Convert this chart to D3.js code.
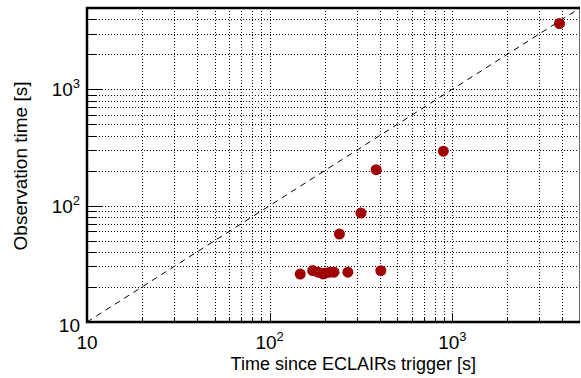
<!DOCTYPE html>
<html>
<head>
<meta charset="utf-8">
<script src="https://cdn.jsdelivr.net/npm/d3@7"></script>
<style>
  body { margin: 0; background: #fff; }
  svg { display: block; font-family: "Liberation Sans", Arial, sans-serif; }
</style>
</head>
<body>
<svg id="chart" width="581" height="378"></svg>
<script>
// time since trigger [s] vs observation time [s]
const triggerTime = [147, 172, 184, 196, 200, 213, 225, 268, 406, 241, 316, 383, 893, 3860];
const obsTime     = [25.8, 27.7, 26.8, 25.9, 26.2, 26.8, 26.8, 26.8, 27.6, 57, 86.5, 204, 294, 3680];
const xDomain = [10, 5000];
const yDomain = [10, 5000];
const decades = [10, 100, 1000];

const svg = d3.select("#chart");
const margin = { left: 87, right: 1, top: 8, bottom: 56 };
const width = +svg.attr("width");
const height = +svg.attr("height");

const x = d3.scaleLog().domain(xDomain).range([margin.left, width - margin.right]);
const y = d3.scaleLog().domain(yDomain).range([height - margin.bottom, margin.top]);

const x0 = x.range()[0], x1 = x.range()[1];
const y0 = y.range()[0], y1 = y.range()[1];

// all grid values 10..5000 (1..9 per decade)
const gridVals = [];
decades.forEach(d => {
  for (let k = 1; k <= 9; k++) {
    const v = d * k;
    if (v >= 10 && v <= 5000) gridVals.push(v);
  }
});

const grid = svg.append("g");
grid.selectAll(".gx")
  .data(gridVals.filter(v => v > xDomain[0] && v < xDomain[1]))
  .enter().append("line")
  .attr("x1", d => Math.round(x(d)) + 0.5).attr("x2", d => Math.round(x(d)) + 0.5)
  .attr("y1", y1).attr("y2", y0)
  .attr("stroke", "#000").attr("stroke-width", 1)
  .attr("stroke-dasharray", "1,2");
grid.selectAll(".gy")
  .data(gridVals.filter(v => v > yDomain[0] && v < yDomain[1]))
  .enter().append("line")
  .attr("y1", d => Math.round(y(d)) + 0.5).attr("y2", d => Math.round(y(d)) + 0.5)
  .attr("x1", x0).attr("x2", x1)
  .attr("stroke", "#000").attr("stroke-width", 1)
  .attr("stroke-dasharray", "1,2");

// ticks
const ticks = svg.append("g").attr("stroke", "#000").attr("stroke-width", 1);
gridVals.forEach(v => {
  const major = decades.includes(v);
  if (v < yDomain[1]) {
    const py = Math.round(y(v)) + 0.5;
    ticks.append("line").attr("x1", x0).attr("x2", x0 + (major ? 15 : 9))
      .attr("y1", py).attr("y2", py);
  }
  if (v < xDomain[1]) {
    const px = Math.round(x(v)) + 0.5;
    ticks.append("line").attr("y1", y0).attr("y2", y0 - (major ? 9 : 5))
      .attr("x1", px).attr("x2", px);
  }
});

// y = x reference line
svg.append("line")
  .attr("x1", x(10)).attr("y1", y(10))
  .attr("x2", x(5000)).attr("y2", y(5000))
  .attr("stroke", "#000").attr("stroke-width", 1)
  .attr("stroke-dasharray", "6,5");

// frame
svg.append("line").attr("x1", x1 - 0.5).attr("x2", x1 - 0.5).attr("y1", y1).attr("y2", y0)
  .attr("stroke", "#666").attr("stroke-width", 1);
svg.append("path")
  .attr("d", `M${x1},${y1}H${x0}V${y0}H${x1}`)
  .attr("fill", "none").attr("stroke", "#000").attr("stroke-width", 2.5);

// points
svg.append("g").selectAll("circle")
  .data(triggerTime.map((t, i) => ({ t, o: obsTime[i] })))
  .enter().append("circle")
  .attr("cx", d => x(d.t))
  .attr("cy", d => y(d.o))
  .attr("r", 5.5)
  .attr("fill", "#a00000");

// tick labels
function powLabel(sel, v) {
  const e = Math.round(Math.log10(v));
  sel.append("tspan").text("10");
  if (e > 1) sel.append("tspan").attr("dy", -8).attr("font-size", 13).text(e);
}

const xl = svg.append("g").attr("font-size", 19).attr("fill", "#000");
decades.forEach(v => {
  const t = xl.append("text").attr("x", x(v)).attr("y", 349).attr("text-anchor", "middle");
  powLabel(t, v);
});
const yl = svg.append("g").attr("font-size", 19).attr("fill", "#000");
decades.forEach(v => {
  const t = yl.append("text").attr("x", 80).attr("y", y(v) + (v === 10 ? 10 : 7)).attr("text-anchor", "end");
  powLabel(t, v);
});

// axis titles
svg.append("text")
  .attr("x", 476).attr("y", 370)
  .attr("text-anchor", "end")
  .attr("font-size", 18)
  .text("Time since ECLAIRs trigger [s]");
svg.append("text")
  .attr("transform", `translate(27,166) rotate(-90)`)
  .attr("text-anchor", "middle")
  .attr("font-size", 19)
  .text("Observation time [s]");
</script>
</body>
</html>
